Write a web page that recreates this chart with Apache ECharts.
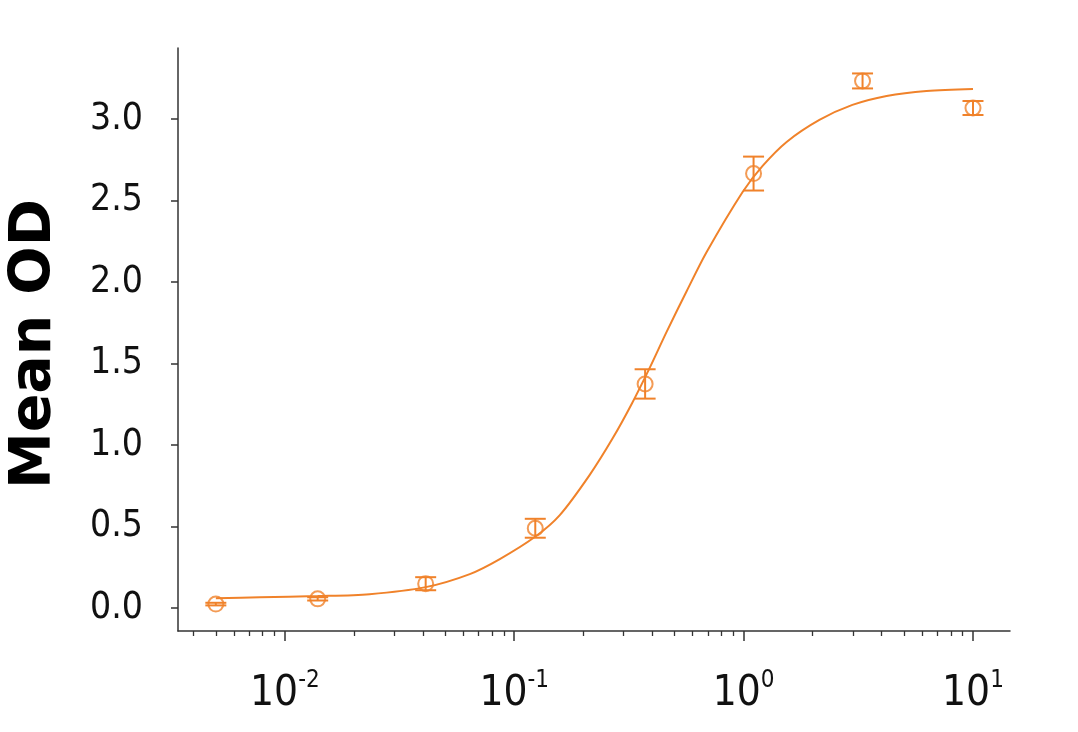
<!DOCTYPE html>
<html>
<head>
<meta charset="utf-8">
<script src="https://cdn.jsdelivr.net/npm/echarts@6/dist/echarts.min.js"></script>
<style>
html,body{margin:0;padding:0;background:#ffffff;}
#chart{width:1078px;height:732px;}
</style>
</head>
<body>
<div id="chart"></div>
<script>
// ---- data ----
const concentration = [0.005, 0.0139, 0.0411, 0.1235, 0.372, 1.105, 3.30, 10];
const meanOD        = [0.025, 0.057, 0.150, 0.490, 1.375, 2.665, 3.233, 3.067];
const errorOD       = [0.008, 0.010, 0.040, 0.058, 0.090, 0.104, 0.046, 0.043];

// fitted curve
const fitX = [0.005, 0.00778, 0.0139, 0.0234, 0.0411, 0.064, 0.0865, 0.1228, 0.158, 0.213, 0.269, 0.325, 0.389, 0.461, 0.565, 0.69, 0.990, 1.21, 1.54, 2.14, 2.98, 4.2, 6.27, 10];
const fitY = [0.061, 0.067, 0.074, 0.086, 0.129, 0.209, 0.301, 0.436, 0.571, 0.816, 1.043, 1.252, 1.472, 1.693, 1.945, 2.184, 2.552, 2.712, 2.859, 2.994, 3.086, 3.141, 3.172, 3.184];

const xMajorTicks = [0.01, 0.1, 1, 10];
const xMinorTicks = [0.004, 0.005, 0.006, 0.007, 0.008, 0.009,
                     0.02, 0.03, 0.04, 0.05, 0.06, 0.07, 0.08, 0.09,
                     0.2, 0.3, 0.4, 0.5, 0.6, 0.7, 0.8, 0.9,
                     2, 3, 4, 5, 6, 7, 8, 9];
const yTicks = [0, 0.5, 1.0, 1.5, 2.0, 2.5, 3.0];
const yTitle = 'Mean OD';

// ---- chart ----
const ORANGE = '#F0822A';
const AXIS = '#333333';
const NARROW = "'Liberation Sans Narrow','DejaVu Sans Condensed',sans-serif";
const xMin = 0.00342, xMax = 14.5;
const yMin = -0.14, yMax = 3.435;

const chart = echarts.init(document.getElementById('chart'), null, {renderer: 'canvas'});

const option = {
  animation: false,
  backgroundColor: '#ffffff',
  grid: {left: 178, top: 48, right: 68, bottom: 101, containLabel: false},
  xAxis: [
    {
      type: 'log', logBase: 10, min: xMin, max: xMax, position: 'bottom',
      axisLine: {show: true, onZero: false, lineStyle: {color: AXIS, width: 1.5}},
      splitLine: {show: false},
      minorTick: {show: false},
      axisTick: {show: true, customValues: xMajorTicks, length: 10, lineStyle: {color: AXIS, width: 1.5}},
      axisLabel: {
        customValues: xMajorTicks,
        margin: 38,
        formatter: function (v) { return '{b|10}{s|' + Math.round(Math.log10(v)) + '}'; },
        rich: {
          b: {fontFamily: NARROW, fontSize: 42, color: '#111', lineHeight: 46, verticalAlign: 'bottom'},
          s: {fontFamily: NARROW, fontSize: 24, color: '#111', lineHeight: 26, verticalAlign: 'top'}
        }
      }
    },
    {
      type: 'log', logBase: 10, min: xMin, max: xMax, position: 'bottom',
      axisLine: {show: false, onZero: false},
      splitLine: {show: false},
      axisTick: {show: true, customValues: xMinorTicks, length: 5, lineStyle: {color: AXIS, width: 1.3}},
      axisLabel: {show: false}
    }
  ],
  yAxis: {
    type: 'value', min: yMin, max: yMax,
    axisLine: {show: true, onZero: false, lineStyle: {color: AXIS, width: 1.5}},
    splitLine: {show: false},
    axisTick: {show: true, customValues: yTicks, length: 7, lineStyle: {color: AXIS, width: 1.5}},
    axisLabel: {
      customValues: yTicks,
      margin: 35,
      fontFamily: NARROW, fontSize: 37, color: '#111',
      formatter: function (v) { return v.toFixed(1); }
    }
  },
  graphic: [{
    type: 'text',
    x: 35, y: 344,
    rotation: Math.PI / 2,
    style: {
      text: yTitle,
      font: 'bold 57px "DejaVu Sans", sans-serif',
      fill: '#000000',
      align: 'center',
      verticalAlign: 'middle'
    }
  }],
  series: [
    {
      type: 'line', name: 'fit', xAxisIndex: 0, yAxisIndex: 0,
      data: fitX.map(function (x, i) { return [x, fitY[i]]; }),
      smooth: 0.3, showSymbol: false, symbol: 'none',
      lineStyle: {color: ORANGE, width: 2},
      z: 2
    },
    {
      type: 'custom', name: 'error', xAxisIndex: 0, yAxisIndex: 0,
      data: concentration.map(function (c, i) { return [c, meanOD[i] - errorOD[i], meanOD[i] + errorOD[i]]; }),
      encode: {x: 0, y: [1, 2]},
      renderItem: function (params, api) {
        const lo = api.coord([api.value(0), api.value(1)]);
        const hi = api.coord([api.value(0), api.value(2)]);
        const hw = 10.5;
        const st = {stroke: ORANGE, lineWidth: 2, fill: null};
        return {
          type: 'group',
          children: [
            {type: 'line', shape: {x1: lo[0], y1: lo[1], x2: hi[0], y2: hi[1]}, style: st},
            {type: 'line', shape: {x1: lo[0] - hw, y1: lo[1], x2: lo[0] + hw, y2: lo[1]}, style: st},
            {type: 'line', shape: {x1: hi[0] - hw, y1: hi[1], x2: hi[0] + hw, y2: hi[1]}, style: st}
          ]
        };
      },
      z: 3
    },
    {
      type: 'scatter', name: 'mean', xAxisIndex: 0, yAxisIndex: 0,
      data: concentration.map(function (c, i) { return [c, meanOD[i]]; }),
      symbol: 'circle', symbolSize: 15,
      itemStyle: {color: 'rgba(255,255,255,0)', borderColor: ORANGE, borderWidth: 2},
      z: 4
    }
  ]
};
chart.setOption(option);
</script>
</body>
</html>
